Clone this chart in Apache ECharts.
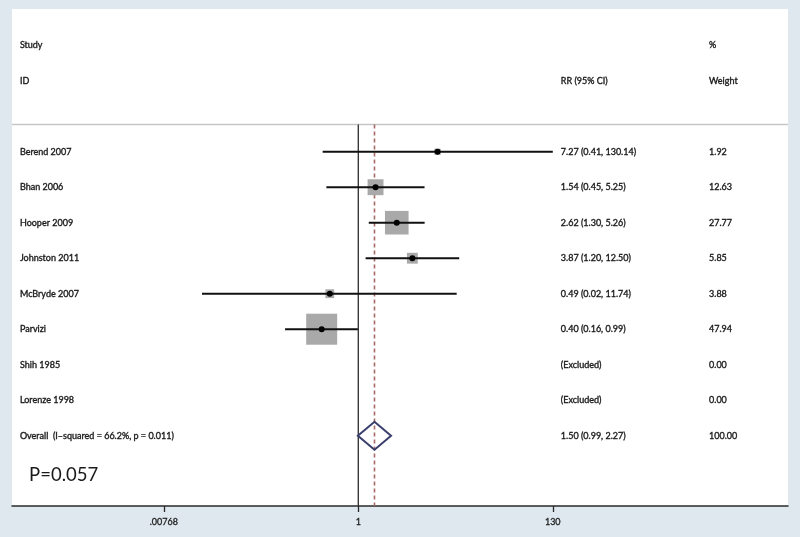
<!DOCTYPE html>
<html>
<head>
<meta charset="utf-8">
<script src="https://cdn.jsdelivr.net/npm/echarts@6/dist/echarts.min.js"></script>
<style>html,body{margin:0;padding:0;background:#dfe8ee;}#c{width:800px;height:537px;}</style>
</head>
<body>
<div id="c"></div>
<script>
// ---- data ----
const studies = ['Berend 2007','Bhan 2006','Hooper 2009','Johnston 2011','McBryde 2007','Parvizi','Shih 1985','Lorenze 1998'];
const rr      = [7.27, 1.54, 2.62, 3.87, 0.49, 0.40, null, null];
const ciLow   = [0.41, 0.45, 1.30, 1.20, 0.02, 0.16, null, null];
const ciHigh  = [130.14, 5.25, 5.26, 12.50, 11.74, 0.99, null, null];
const weights = [1.92, 12.63, 27.77, 5.85, 3.88, 47.94, 0.00, 0.00];
const overallLabel = 'Overall  (I\u2013squared = 66.2%, p = 0.011)';
const overallEst = [1.50, 0.99, 2.27];   // RR, low, high
const overallWeight = 100.00;
const tickValues = [0.00768, 1, 130];
const tickLabels = ['.00768', '1', '130'];
const pText = 'P=0.057';

// ---- layout ----
const L = Math.log;
const colStudy = -8.47, colRR = 5.07, colWt = 8.78, colP = -8.24;
const rowOverall = studies.length;
const FONT = 'Lato, "Noto Sans", sans-serif';

const texts = [];
const textData = [];
function addText(x, y, s, size, heavy) { texts.push({s: s, size: size, heavy: heavy}); textData.push([x, y, texts.length - 1]); }
addText(colStudy, -3, 'Study', 9, true);
addText(colStudy, -2, 'ID', 9, true);
addText(colRR, -2, 'RR (95% CI)', 9, true);
addText(colWt, -3, '%', 9, true);
addText(colWt, -2, 'Weight', 9, true);
studies.forEach((s, i) => {
  addText(colStudy, i, s, 9, true);
  addText(colRR, i, rr[i] == null ? '(Excluded)' : rr[i].toFixed(2) + ' (' + ciLow[i].toFixed(2) + ', ' + ciHigh[i].toFixed(2) + ')', 9, true);
  addText(colWt, i, weights[i].toFixed(2), 9, true);
});
addText(colStudy, rowOverall, overallLabel, 9, true);
addText(colRR, rowOverall, overallEst[0].toFixed(2) + ' (' + overallEst[1].toFixed(2) + ', ' + overallEst[2].toFixed(2) + ')', 9, true);
addText(colWt, rowOverall, overallWeight.toFixed(2), 9, true);
addText(colP, rowOverall + 1.12, pText, 18.5, false);

const ciData = [], boxData = [], dotData = [];
studies.forEach((s, i) => {
  if (rr[i] == null) return;
  ciData.push([L(ciLow[i]), L(ciHigh[i]), i]);
  boxData.push([L(rr[i]), i, weights[i]]);
  dotData.push([L(rr[i]), i]);
});

const xMin = -8.668, xMax = 10.756, yMin = -4.02, yMax = 9.98, sepRow = -0.77;

const chart = echarts.init(document.getElementById('c'));
chart.setOption({
  backgroundColor: '#dfe8ee',
  animation: false,
  grid: {left: 12, right: 12, top: 9, bottom: 31, show: true, backgroundColor: '#ffffff', borderWidth: 0},
  xAxis: {
    type: 'value', min: xMin, max: xMax,
    splitLine: {show: false},
    axisLine: {show: true, onZero: false, lineStyle: {color: '#2a2a2a', width: 1.5}},
    axisTick: {show: true, length: 6, lineStyle: {color: '#2a2a2a', width: 1.3}, customValues: tickValues.map(L)},
    axisLabel: {
      customValues: tickValues.map(L), margin: 12, fontSize: 9, color: '#1e1e1e', fontFamily: FONT,
      textBorderColor: '#1e1e1e', textBorderWidth: 0.3,
      formatter: v => { const k = tickValues.map(L).findIndex(t => Math.abs(t - v) < 1e-6); return k >= 0 ? tickLabels[k] : ''; }
    }
  },
  yAxis: {type: 'value', min: yMin, max: yMax, inverse: true, show: false},
  series: [
    { // reference lines
      type: 'custom', z: 1, clip: false,
      data: [[0]],
      renderItem: (params, api) => {
        const top = api.coord([0, sepRow])[1], bot = api.coord([0, yMax])[1];
        const x1 = api.coord([0, 0])[0], xo = api.coord([L(overallEst[0]), 0])[0];
        const xl = api.coord([xMin, 0])[0], xr = api.coord([xMax, 0])[0];
        return {type: 'group', children: [
          {type: 'line', shape: {x1: xl, y1: top, x2: xr, y2: top}, style: {stroke: '#c6c6c6', lineWidth: 1.5}},
          {type: 'line', shape: {x1: x1, y1: top, x2: x1, y2: bot}, style: {stroke: '#2b2b2b', lineWidth: 1.3}},
          {type: 'line', shape: {x1: xo, y1: top, x2: xo, y2: bot}, style: {stroke: '#a86a68', lineWidth: 1.6, lineDash: [4, 3]}}
        ]};
      }
    },
    { // weight boxes
      type: 'scatter', z: 2, symbol: 'rect',
      data: boxData,
      symbolSize: v => 4.48 * Math.sqrt(v[2]),
      itemStyle: {color: '#a9a9a9', opacity: 1}
    },
    { // confidence intervals
      type: 'custom', z: 3,
      data: ciData,
      renderItem: (params, api) => {
        const p1 = api.coord([api.value(0), api.value(2)]);
        const p2 = api.coord([api.value(1), api.value(2)]);
        return {type: 'line', shape: {x1: p1[0], y1: p1[1], x2: p2[0], y2: p2[1]}, style: {stroke: '#111', lineWidth: 2}};
      }
    },
    { // point estimates
      type: 'scatter', z: 4, symbol: 'circle', symbolSize: 6,
      data: dotData, itemStyle: {color: '#000', opacity: 1}
    },
    { // overall diamond
      type: 'custom', z: 5,
      data: [[L(overallEst[0]), L(overallEst[1]), L(overallEst[2]), rowOverall]],
      renderItem: (params, api) => {
        const row = api.value(3);
        const c = api.coord([api.value(0), row]);
        const lo = api.coord([api.value(1), row]);
        const hi = api.coord([api.value(2), row]);
        const h = 14;
        return {type: 'polygon', shape: {points: [[lo[0], c[1]], [c[0], c[1] - h], [hi[0], c[1]], [c[0], c[1] + h]]},
          style: {fill: 'none', stroke: '#3a3f6e', lineWidth: 2}};
      }
    },
    { // texts
      type: 'custom', z: 6, clip: false,
      data: textData,
      renderItem: (params, api) => {
        const p = api.coord([api.value(0), api.value(1)]);
        const t = texts[api.value(2)];
        const st = {text: t.s, x: p[0], y: p[1], fill: '#1a1a1a', fontSize: t.size, fontFamily: FONT, align: 'left', verticalAlign: 'middle'};
        if (t.heavy) { st.stroke = '#1a1a1a'; st.lineWidth = 0.35; }
        return {type: 'text', style: st};
      }
    }
  ]
});
</script>
</body>
</html>
